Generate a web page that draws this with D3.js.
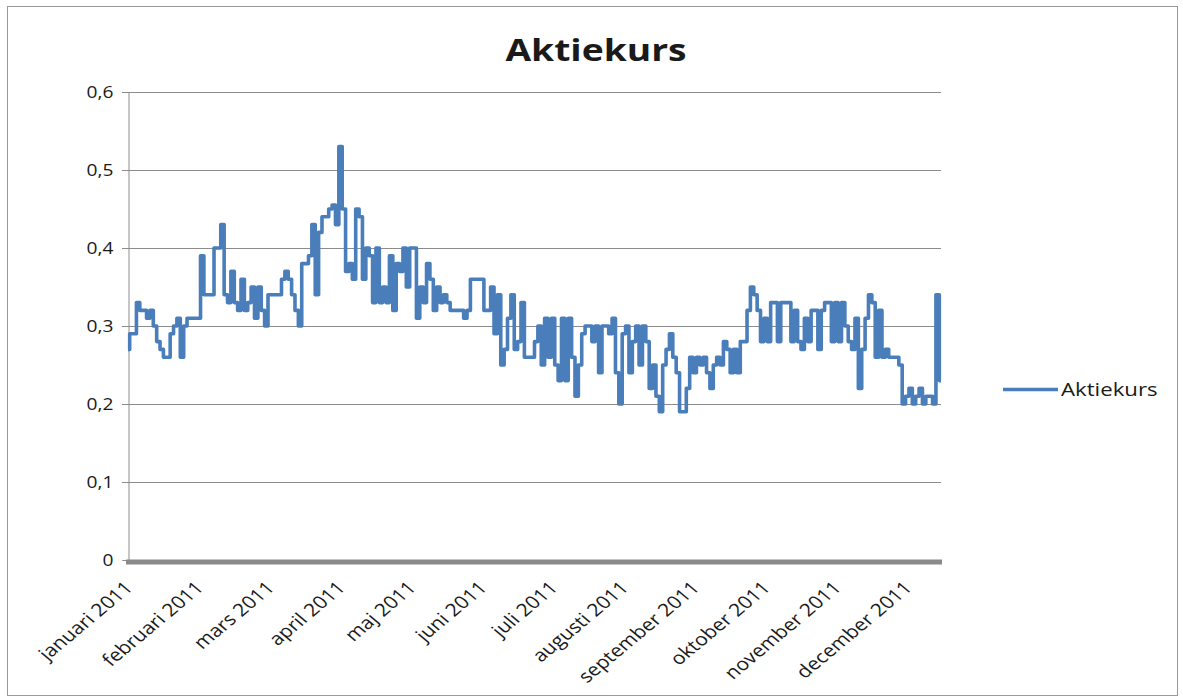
<!DOCTYPE html>
<html>
<head>
<meta charset="utf-8">
<script src="https://cdn.jsdelivr.net/npm/d3@7"></script>
<style>
  html, body { margin: 0; padding: 0; background: #fff; }
  svg { display: block; }
  text { font-family: "Open Sans", Lato, sans-serif; fill: #1a1a1a; }
</style>
</head>
<body>
<svg id="chart" width="1183" height="699"></svg>
<script>
const title = "Aktiekurs";
const seriesName = "Aktiekurs";
const monthLabels = ["januari 2011","februari 2011","mars 2011","april 2011","maj 2011","juni 2011","juli 2011","augusti 2011","september 2011","oktober 2011","november 2011","december 2011"];
const labelEvery = 21;
const yTicks = [0, 0.1, 0.2, 0.3, 0.4, 0.5, 0.6];
const prices = [
  0.27,0.29,0.29,0.33,0.32,0.32,0.31,0.32,0.30,0.28,
  0.27,0.26,0.26,0.29,0.30,0.31,0.26,0.30,0.31,0.31,
  0.31,0.31,0.39,0.34,0.34,0.34,0.40,0.40,0.43,0.34,
  0.33,0.37,0.33,0.32,0.36,0.32,0.33,0.35,0.31,0.35,
  0.32,0.30,0.34,0.34,0.34,0.34,0.36,0.37,0.36,0.34,
  0.32,0.30,0.38,0.38,0.39,0.43,0.34,0.42,0.44,0.44,
  0.45,0.455,0.43,0.53,0.45,0.37,0.38,0.36,0.45,0.44,
  0.36,0.40,0.39,0.33,0.40,0.33,0.35,0.33,0.39,0.32,
  0.38,0.37,0.40,0.35,0.40,0.40,0.31,0.35,0.33,0.38,
  0.36,0.32,0.35,0.33,0.34,0.33,0.32,0.32,0.32,0.32,
  0.31,0.32,0.36,0.36,0.36,0.36,0.32,0.32,0.35,0.29,
  0.34,0.25,0.27,0.31,0.34,0.27,0.28,0.33,0.26,0.26,
  0.26,0.28,0.30,0.25,0.31,0.26,0.31,0.25,0.23,0.31,
  0.23,0.31,0.26,0.21,0.25,0.29,0.30,0.30,0.28,0.30,
  0.24,0.30,0.30,0.29,0.31,0.24,0.20,0.29,0.30,0.24,
  0.28,0.30,0.25,0.30,0.28,0.22,0.25,0.21,0.19,0.25,
  0.27,0.29,0.26,0.24,0.19,0.19,0.22,0.26,0.24,0.26,
  0.25,0.26,0.24,0.22,0.25,0.26,0.25,0.28,0.27,0.24,
  0.27,0.24,0.28,0.28,0.32,0.35,0.34,0.32,0.28,0.31,
  0.28,0.33,0.33,0.28,0.33,0.33,0.33,0.28,0.32,0.28,
  0.27,0.31,0.28,0.32,0.32,0.27,0.32,0.33,0.33,0.28,
  0.33,0.28,0.33,0.30,0.28,0.27,0.31,0.22,0.27,0.31,
  0.34,0.33,0.26,0.32,0.26,0.27,0.26,0.26,0.26,0.25,
  0.20,0.21,0.22,0.20,0.21,0.22,0.20,0.21,0.21,0.20,
  0.34,0.23
];

const svg = d3.select("#chart");
const plot = { left: 128, right: 941, top: 92, bottom: 560 };
const stretch = 1.2; // horizontal stretch of text seen in the reference

// outer border
svg.append("rect").attr("x", 7.5).attr("y", 6.5).attr("width", 1170).attr("height", 689)
  .attr("fill", "#fff").attr("stroke", "#9a9a9a").attr("stroke-width", 1);

const x = d3.scaleLinear().domain([0, prices.length - 1]).range([plot.left, plot.right]);
const y = d3.scaleLinear().domain([0, 0.6]).range([plot.bottom, plot.top]);

// gridlines
svg.append("g").selectAll("line").data(yTicks.filter(d => d > 0)).join("line")
  .attr("x1", plot.left - 6).attr("x2", plot.right)
  .attr("y1", d => Math.round(y(d)) + 0.5).attr("y2", d => Math.round(y(d)) + 0.5)
  .attr("stroke", "#8c8c8c").attr("stroke-width", 1);

// y axis
const yAxis = d3.axisLeft(y).tickValues(yTicks).tickSize(6).tickPadding(10)
  .tickFormat(d => d3.format(".1~f")(d).replace(".", ","));
const gy = svg.append("g").attr("transform", `translate(${plot.left + 0.5},0)`).call(yAxis);
gy.select(".domain").attr("stroke", "#8c8c8c");
gy.selectAll(".tick line").attr("stroke", "#8c8c8c");
gy.selectAll(".tick text")
  .style("font-size", "16px").style("font-family", "'Open Sans', sans-serif").attr("fill", "#1a1a1a")
  .attr("x", null)
  .attr("transform", `translate(-15,0) scale(${stretch},1)`);

// line
const line = d3.line().x((d, i) => x(i)).y(d => y(d)).curve(d3.curveStep);
svg.append("path").datum(prices).attr("d", line)
  .attr("fill", "none").attr("stroke", "#4a7ebb").attr("stroke-width", 3.6)
  .attr("stroke-linejoin", "round");

// x axis thick line
svg.append("line").attr("x1", plot.left - 2).attr("x2", plot.right + 1)
  .attr("y1", plot.bottom + 2).attr("y2", plot.bottom + 2)
  .attr("stroke", "#8a8a8a").attr("stroke-width", 5);

// x labels
const labelIdx = monthLabels.map((m, k) => k * labelEvery);
svg.append("g").selectAll("text").data(monthLabels).join("text")
  .attr("transform", (d, k) => `translate(${x(labelIdx[k]) + 6},${plot.bottom + 29}) scale(${stretch},1) rotate(-45)`)
  .attr("text-anchor", "end")
  .style("font-size", "17.6px")
  .text(d => d);

// title
svg.append("text").attr("transform", `translate(596,61) scale(${stretch},1)`).attr("text-anchor", "middle")
  .style("font-size", "31px").style("font-weight", "bold").text(title);

// legend
svg.append("line").attr("x1", 1003).attr("x2", 1058).attr("y1", 389.5).attr("y2", 389.5)
  .attr("stroke", "#4a7ebb").attr("stroke-width", 3.6);
svg.append("text").attr("transform", `translate(1061,396) scale(${stretch},1)`)
  .style("font-size", "18.5px").text(seriesName);
</script>
</body>
</html>
